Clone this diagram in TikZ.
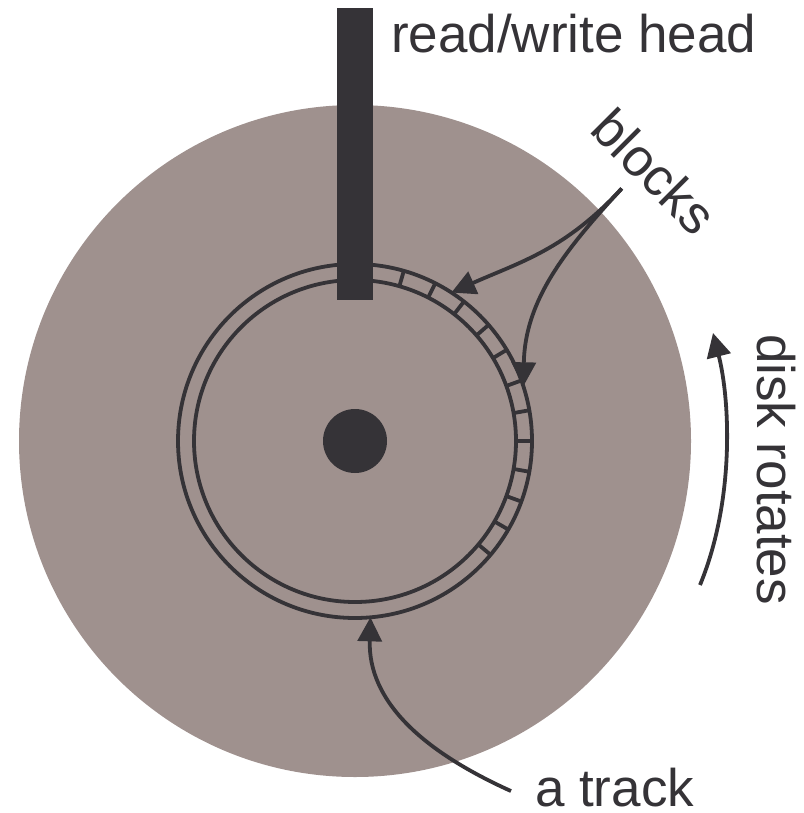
\documentclass[tikz,border=0pt]{standalone}
\usepackage{fontspec}
\setmainfont{Liberation Sans}
\usetikzlibrary{arrows.meta}
\definecolor{diskgray}{RGB}{159,145,142}
\definecolor{ink}{RGB}{53,51,55}
\tikzset{
  lbl/.style={font=\fontsize{53pt}{62pt}\selectfont, text=ink, inner sep=0pt, outer sep=0pt},
  conn/.style={draw=ink, line width=3.8pt, -{Triangle[length=24pt,width=24pt]}},
  trackline/.style={draw=ink, line width=3.8pt},
  ring/.style={circle, inner sep=0pt, outer sep=0pt},
}
\begin{document}
\begin{tikzpicture}[x=1pt,y=-1pt]
\useasboundingbox (0,0) rectangle (803,813);
% platter
\node[ring, fill=diskgray, minimum size=672pt] (disk) at (355,441) {};
% track
\node[ring, trackline, minimum size=354pt] (track) at (355,441) {};
\node[ring, trackline, minimum size=322pt] (trackin) at (355,441) {};
\foreach \a in {74,63,52.5,41.5,31,20.5,10,0,-10,-20,-30,-40}
  \draw[trackline] (trackin.\a) -- (track.\a);
% hub
\node[ring, fill=ink, minimum size=64pt] (hub) at (355,441) {};
% head
\node[fill=ink, minimum width=36pt, minimum height=292pt, inner sep=0pt, outer sep=0pt, anchor=north] (head) at (355,8) {};
% labels
\node[lbl, anchor=base west] (rwh) at (391,53) {read/write head};
\node[lbl, anchor=base west, rotate=-45] (blk) at (588,132) {blocks};
\node[lbl, anchor=base west, rotate=-90] (rot) at (757,334) {disk rotates};
\node[lbl, anchor=base west] (trk) at (535,806) {a track};
% connectors
\draw[conn] ([xshift=-24pt,yshift=-4pt]trk.west) .. controls (420,750) and (368,700) .. (track.-85);
\draw[conn] ([xshift=-19pt,yshift=-3pt]blk.south) .. controls (565,250) and (520,262) .. (track.57);
\draw[conn] ([xshift=-19pt,yshift=-3pt]blk.south) .. controls (565,250) and (525,300) .. (track.18);
\coordinate (rotA) at (700,585);
\coordinate (rotB) at (713,333);
\draw[conn] (rotA) .. controls (735,500) and (730,400) .. (rotB);
\end{tikzpicture}
\end{document}
